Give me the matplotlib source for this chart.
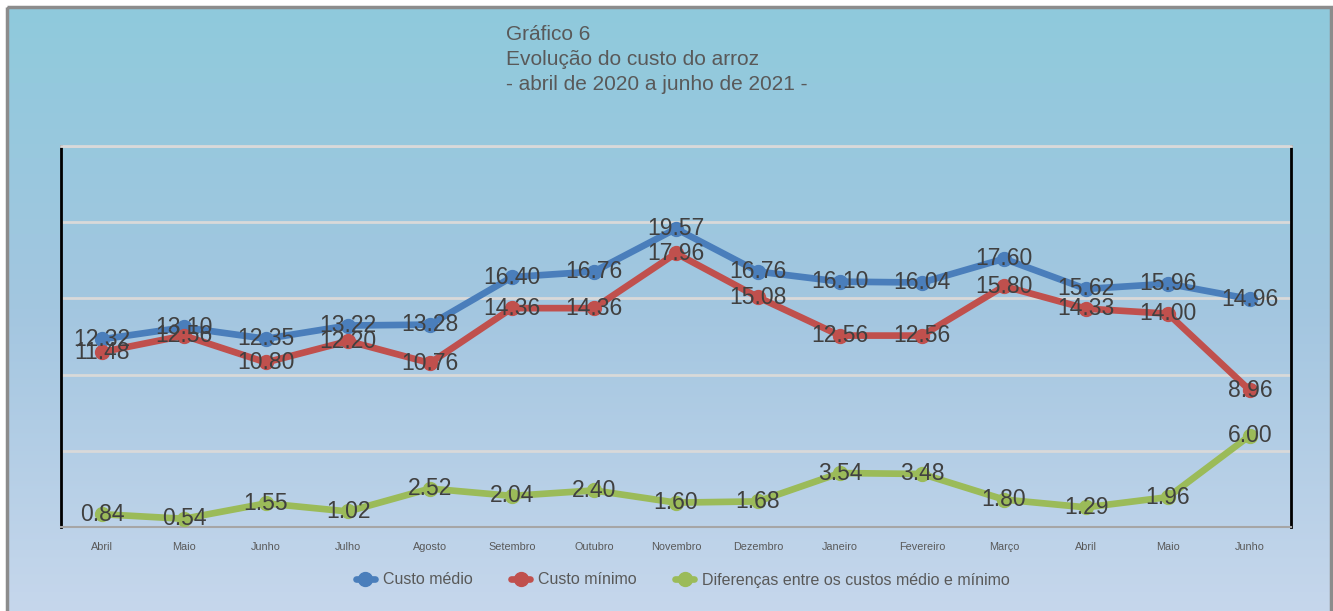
import numpy as np
import matplotlib
matplotlib.use("Agg")
import matplotlib.pyplot as plt
from matplotlib.colors import LinearSegmentedColormap
from matplotlib.patches import Rectangle

plt.rcParams['font.family'] = ['Liberation Sans', 'DejaVu Sans']

months = ['Abril', 'Maio', 'Junho', 'Julho', 'Agosto', 'Setembro', 'Outubro',
          'Novembro', 'Dezembro', 'Janeiro', 'Fevereiro', 'Março', 'Abril',
          'Maio', 'Junho']
custo_medio = [12.32, 13.10, 12.35, 13.22, 13.28, 16.40, 16.76, 19.57,
               16.76, 16.10, 16.04, 17.60, 15.62, 15.96, 14.96]
custo_minimo = [11.48, 12.56, 10.80, 12.20, 10.76, 14.36, 14.36, 17.96,
                15.08, 12.56, 12.56, 15.80, 14.33, 14.00, 8.96]
diferenca = [0.84, 0.54, 1.55, 1.02, 2.52, 2.04, 2.40, 1.60,
             1.68, 3.54, 3.48, 1.80, 1.29, 1.96, 6.00]

series = [
    (custo_medio, 'Custo médio', '#4A7EBB'),
    (custo_minimo, 'Custo mínimo', '#C0504D'),
    (diferenca, 'Diferenças entre os custos médio e mínimo', '#9BBB59'),
]
title_lines = ['Gráfico 6', 'Evolução do custo do arroz',
               '- abril de 2020 a junho de 2021 -']

W, H = 1333, 611
fig = plt.figure(figsize=(W / 100, H / 100), dpi=100, facecolor='white')

# background gradient inside the chart frame
bg = fig.add_axes([0, 0, 1, 1], zorder=-10)
bg.set_xlim(0, W)
bg.set_ylim(H, 0)
bg.axis('off')
cmap = LinearSegmentedColormap.from_list('bg', ['#8FCADC', '#A3C6E0', '#C6D7EC'])
grad = np.linspace(0, 1, 256).reshape(-1, 1)
bg.imshow(grad, cmap=cmap, extent=(7, 1331, H, 7), aspect='auto')
bg.add_patch(Rectangle((7, 7), 1324, H, fill=False, edgecolor='#8C8C8C', lw=2.5))

for i, line in enumerate(title_lines):
    fig.text(506 / W, 1 - (35 + i * 24.5) / H, line, ha='left', va='center',
             fontsize=15, color='#595959')

ax = fig.add_axes([61 / W, 1 - 527 / H, (1291 - 61) / W, (527 - 146) / H])
ax.set_facecolor('none')
x = np.arange(len(months))

for vals, label, color in series:
    ax.plot(x, vals, color=color, lw=4.8, marker='o', markersize=10,
            solid_capstyle='round', solid_joinstyle='round', label=label, zorder=3)
for vals, label, color in series:
    for xi, v in zip(x, vals):
        ax.text(xi, v, f'{v:.2f}', ha='center', va='center', fontsize=16.5,
                color='#404040', zorder=5)

ax.set_xlim(-0.5, len(months) - 0.5)
ax.set_ylim(0, 25)
ax.set_yticks([0, 5, 10, 15, 20, 25])
ax.yaxis.grid(True, color='#D9D9D9', lw=2)
ax.set_axisbelow(True)
ax.tick_params(axis='y', left=False, labelleft=False)
ax.set_xticks(x)
ax.set_xticklabels(months, fontsize=7.8, color='#595959')
ax.tick_params(axis='x', length=0, pad=11)
for side in ['left', 'right']:
    ax.spines[side].set_color('black')
    ax.spines[side].set_linewidth(2)
ax.spines['top'].set_color('#D9D9D9')
ax.spines['top'].set_linewidth(2)
ax.spines['bottom'].set_color('#A6A6A6')
ax.spines['bottom'].set_linewidth(1.5)

fig.legend(loc='center', bbox_to_anchor=(683 / W, 1 - 580 / H), ncol=3,
           frameon=False, fontsize=11.5, labelcolor='#595959',
           handlelength=1.2, handletextpad=0.5, columnspacing=2.4)

fig.savefig('out.png', dpi=100)
